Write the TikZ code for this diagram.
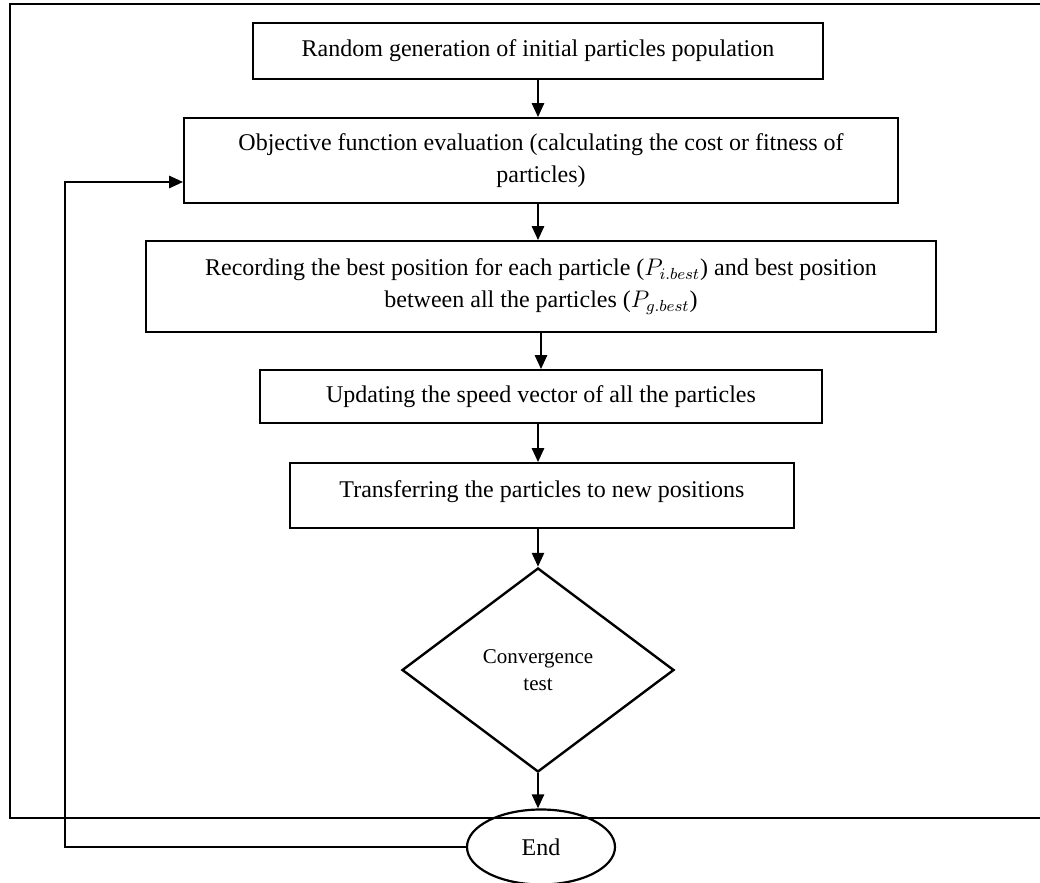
\documentclass[tikz,border=0pt]{standalone}
\usepackage{fontspec}
\setmainfont{Liberation Serif}
\usetikzlibrary{shapes.geometric,arrows.meta}
\begin{document}
\begin{tikzpicture}[x=0.5pt,y=-0.5pt,
		etape/.style={draw, line width=0.85pt, align=center, inner sep=2pt, font=\fontsize{12}{16}\selectfont},
		fleche/.style={line width=1.3pt, -{Triangle[length=7pt,width=6pt]}}]
			\useasboundingbox (0,0) rectangle (1040,883);
			\draw[line width=1.4pt] (1040,4) -| (10,818) -- (1040,818);
			\node[etape, minimum width=285pt, minimum height=28pt] (gen) at (538,51) {Random generation of initial particles population};
			\node[etape, minimum width=357pt, minimum height=42.5pt] (eval) at (541,160.5) {Objective function evaluation (calculating the cost or fitness of\\particles)};
			\node[etape, minimum width=395pt, minimum height=45.5pt] (rec) at (541,286.5) {Recording the best position for each particle ($P_{i.best}$) and best position\\between all the particles ($P_{g.best}$)};
			\node[etape, minimum width=281pt, minimum height=26.5pt] (upd) at (541,396.5) {Updating the speed vector of all the particles};
			\node[etape, minimum width=252pt, minimum height=32.5pt, text depth=6pt] (tra) at (542,495.5) {Transferring the particles to new positions};
			\node[diamond, draw, line width=1.2pt, inner sep=0pt, minimum width=136pt, minimum height=102pt, align=center, font=\fontsize{10.5}{13.5}\selectfont] (conv) at (538,670) {Convergence\\test};
			\node[ellipse, draw, line width=1.1pt, minimum width=74pt, minimum height=37.5pt, font=\fontsize{12}{14}\selectfont] (fin) at (541,847) {End};
			\coordinate (retour) at (65,182);
			\draw[fleche] (gen.south) -- (gen.south |- eval.north);
			\draw[fleche] (gen.south |- eval.south) -- (gen.south |- rec.north);
			\draw[fleche] (rec.south) -- (rec.south |- upd.north);
			\draw[fleche] (gen.south |- upd.south) -- (gen.south |- tra.north);
			\draw[fleche] (conv.north |- tra.south) -- (conv.north);
			\draw[fleche] (conv.south) -- (conv.south |- fin.north);
			\draw[fleche] (fin.west) -| (retour) -- (retour -| eval.west);
		\end{tikzpicture}
\end{document}
